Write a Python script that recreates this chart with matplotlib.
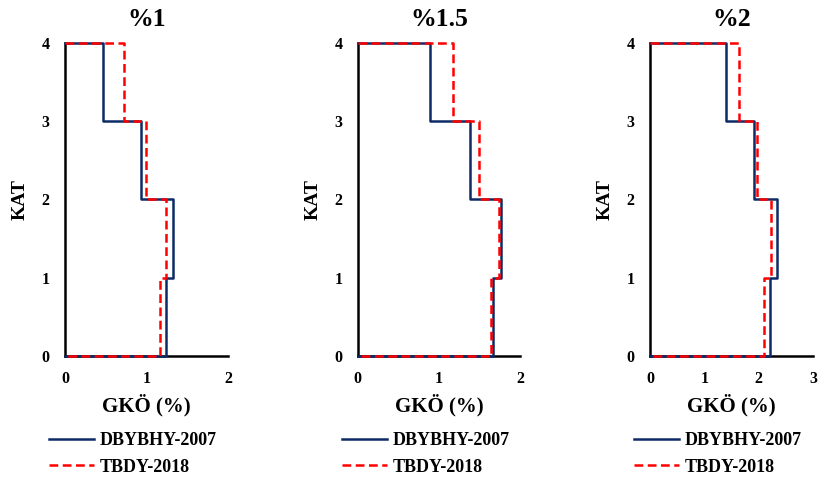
import matplotlib
matplotlib.use("Agg")
import matplotlib.pyplot as plt

plt.rcParams['font.family'] = ['Liberation Serif', 'DejaVu Serif']
plt.rcParams['font.weight'] = 'bold'

# Story drift ratios (%) for stories 1..4
titles = ["%1", "%1.5", "%2"]
stories = [1, 2, 3, 4]
dbybhy_1 = [1.24, 1.33, 0.93, 0.47]
tbdy_1 = [1.17, 1.24, 0.99, 0.72]
dbybhy_15 = [1.67, 1.77, 1.38, 0.89]
tbdy_15 = [1.64, 1.74, 1.49, 1.17]
dbybhy_2 = [2.21, 2.33, 1.91, 1.40]
tbdy_2 = [2.10, 2.22, 1.97, 1.64]
xmax = [2, 2, 3]
xticks = [[0, 1, 2], [0, 1, 2], [0, 1, 2, 3]]
yticks = [0, 1, 2, 3, 4]
series_labels = ["DBYBHY-2007", "TBDY-2018"]

blue = "#0d2a67"
red = "#ff0000"

W, H = 821, 480
fig = plt.figure(figsize=(W / 100, H / 100), dpi=100)

lefts = [65, 357.7, 650]
widths = [163, 162.3, 163.3]
legend_x = [49, 341.7, 634]
bottom = 1 - 356 / H
height = (356 - 42.7) / H


def step_path(drifts):
    xs, ys = [0], [stories[-1]]
    for s in reversed(stories):
        d = drifts[s - 1]
        xs += [d, d]
        ys += [s, s - 1]
    xs.append(0)
    ys.append(0)
    return xs, ys


data = [(dbybhy_1, tbdy_1), (dbybhy_15, tbdy_15), (dbybhy_2, tbdy_2)]

for i in range(3):
    ax = fig.add_axes([lefts[i] / W, bottom, widths[i] / W, height])
    d_old, d_new = data[i]
    x1, y1 = step_path(d_old)
    x2, y2 = step_path(d_new)
    l1, = ax.plot(x1, y1, color=blue, lw=1.8, zorder=3, clip_on=False,
                  label=series_labels[0])
    l2, = ax.plot(x2, y2, color=red, lw=1.8, ls=(0, (3.5, 1.8)), zorder=4,
                  clip_on=False, label=series_labels[1])
    ax.set_xlim(0, xmax[i])
    ax.set_ylim(0, 4)
    ax.set_xticks(xticks[i])
    ax.set_yticks(yticks)
    ax.tick_params(length=0, pad=11, labelsize=11.5)
    for lab in ax.get_xticklabels() + ax.get_yticklabels():
        lab.set_fontweight('bold')
    for s in ['top', 'right']:
        ax.spines[s].set_visible(False)
    for s in ['left', 'bottom']:
        ax.spines[s].set_linewidth(1.8)
        ax.spines[s].set_color('black')
        ax.spines[s].set_zorder(1)
    ax.set_title(titles[i], fontsize=18.5, fontweight='bold', pad=12)
    ax.set_xlabel("GKÖ (%)", fontsize=15, fontweight='bold', labelpad=5)
    ax.set_ylabel("KAT", fontsize=14, fontweight='bold', labelpad=9)
    fig.legend(handles=[l1, l2], loc='center left',
               bbox_to_anchor=(legend_x[i] / W, 1 - 454 / H),
               bbox_transform=fig.transFigure, frameon=False,
               prop={'size': 13, 'weight': 'bold'},
               handlelength=2.5, handletextpad=0.3, borderpad=0,
               borderaxespad=0, labelspacing=0.5)

fig.savefig("out.png", dpi=100)
